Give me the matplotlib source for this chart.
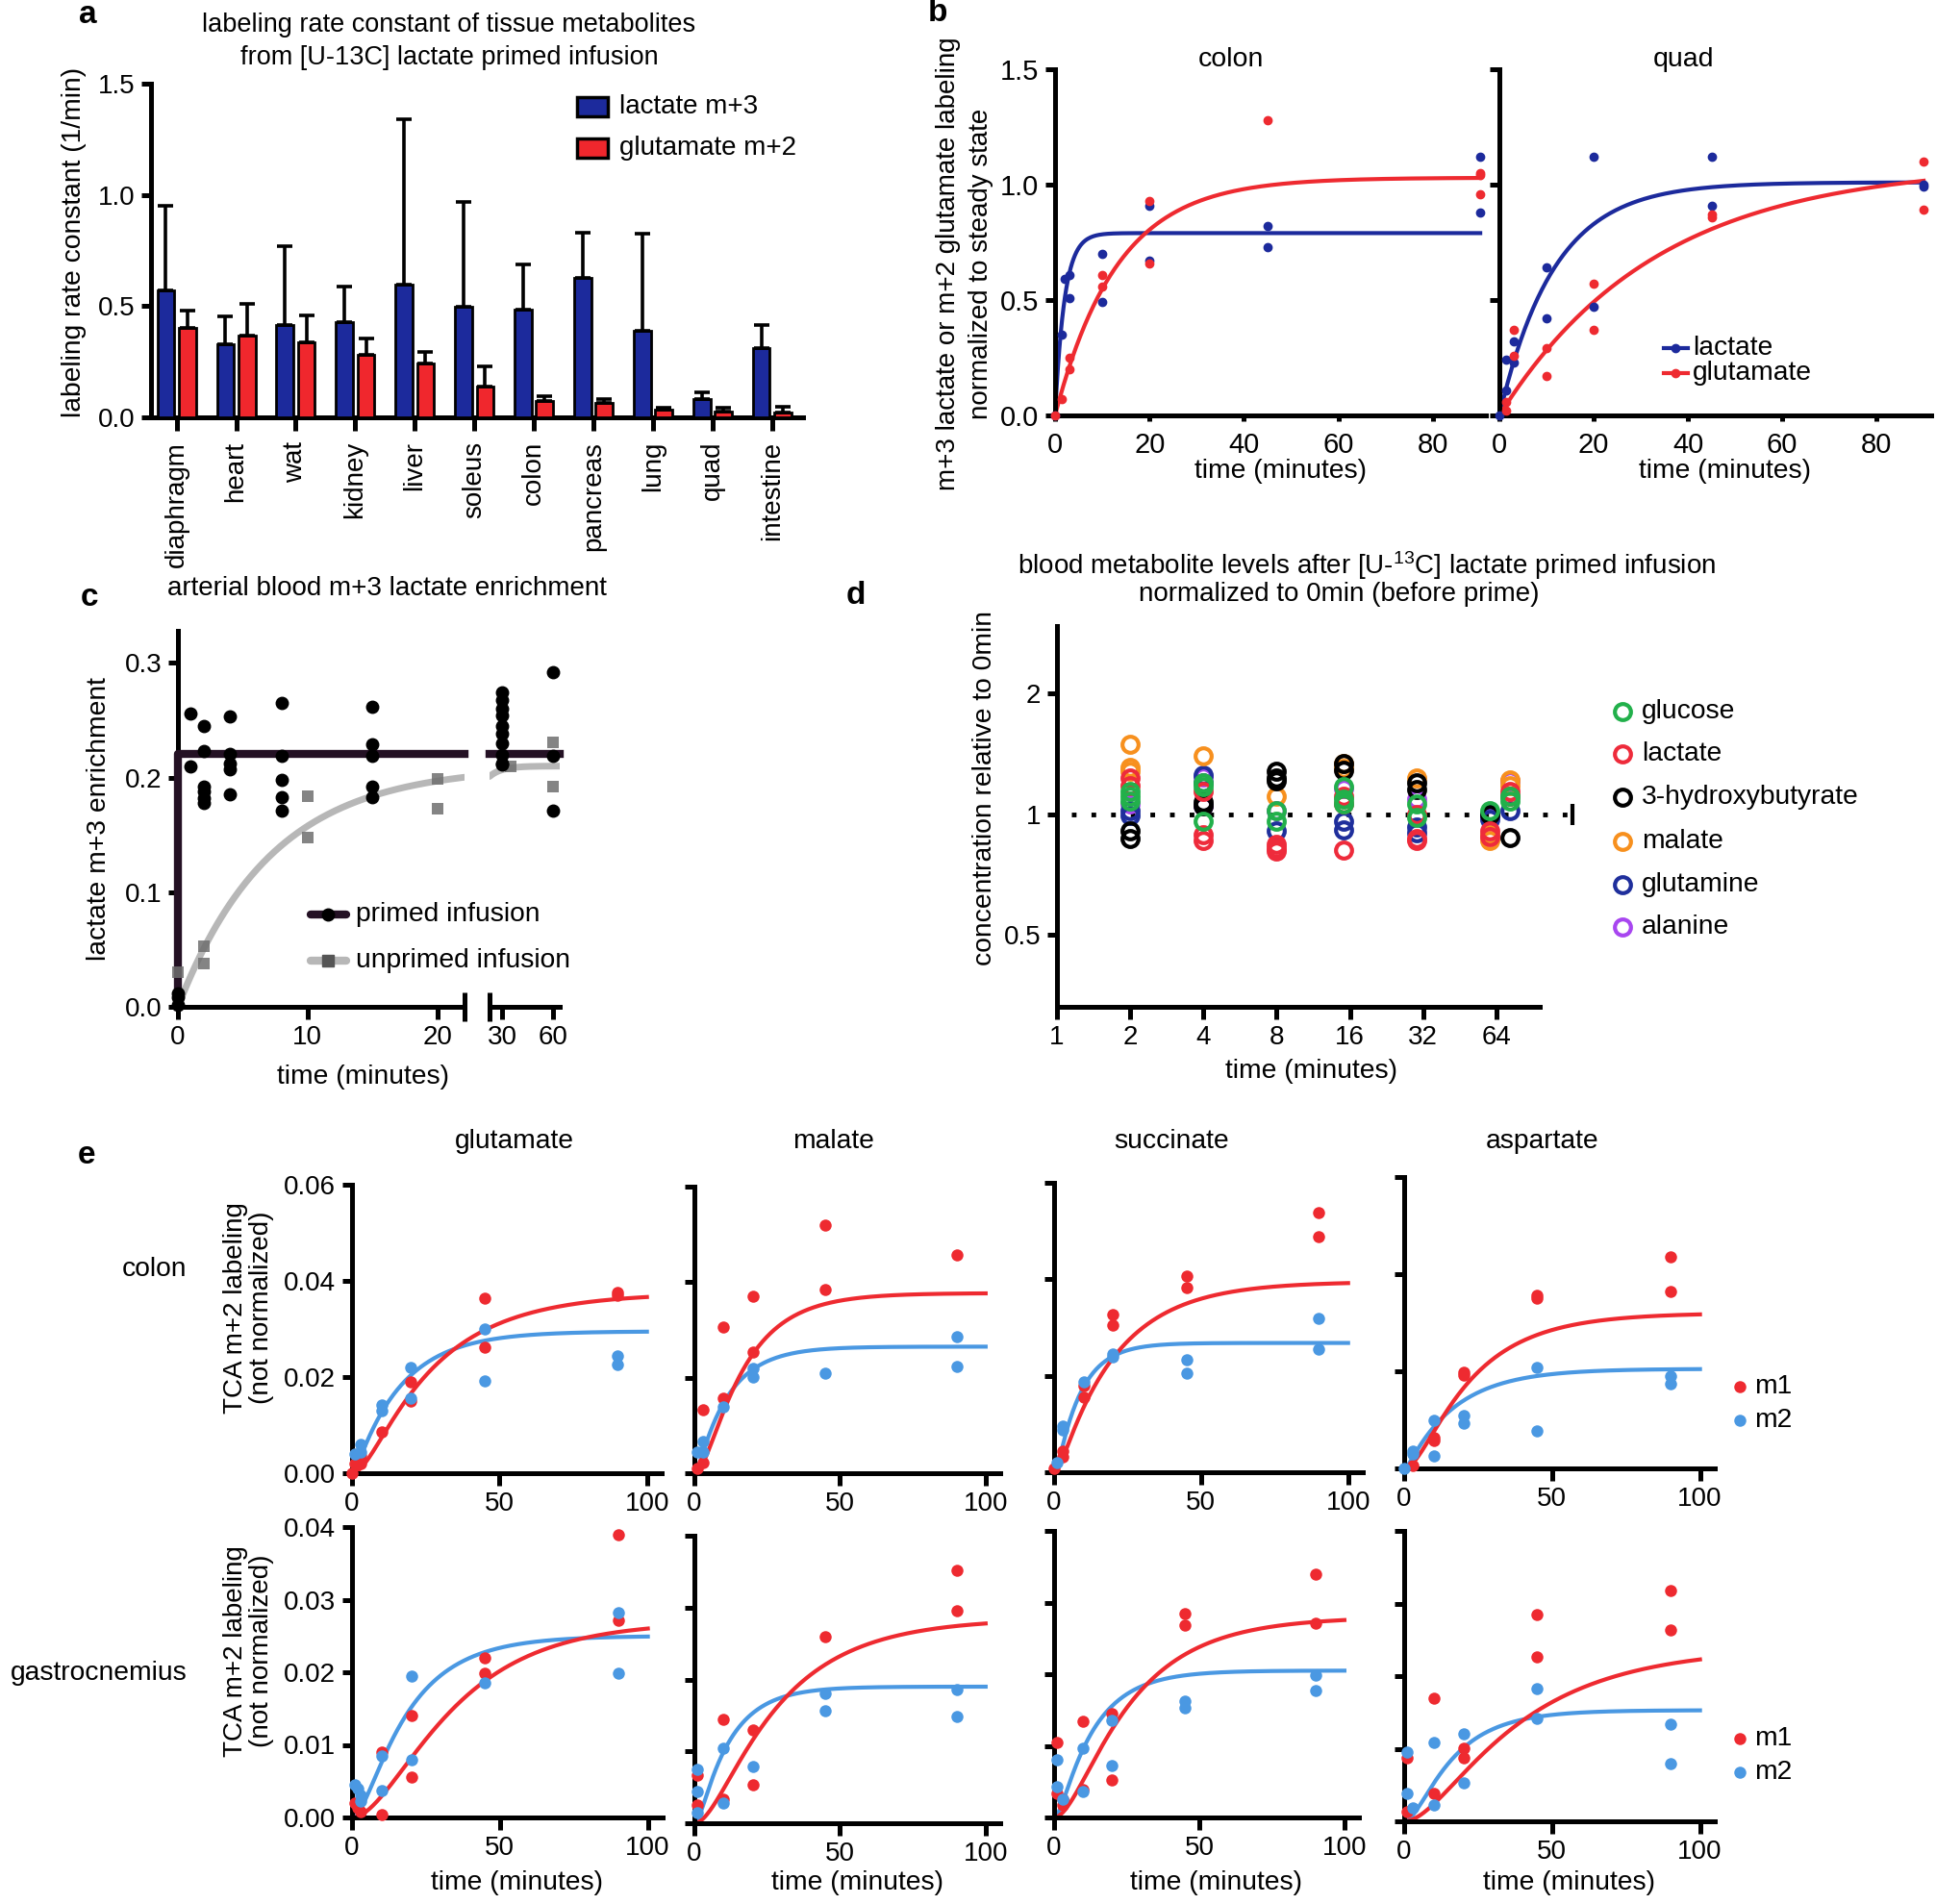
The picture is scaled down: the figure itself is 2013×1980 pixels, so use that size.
import numpy as np
import matplotlib
matplotlib.use("Agg")
import matplotlib.pyplot as plt
from matplotlib.lines import Line2D
from matplotlib.patches import Rectangle

# ---- data ---------------------------------------------------------------

# panel a: labeling rate constants (1/min)
tissues = ['diaphragm', 'heart', 'wat', 'kidney', 'liver', 'soleus',
           'colon', 'pancreas', 'lung', 'quad', 'intestine']
lac_k = [0.572, 0.327, 0.417, 0.428, 0.596, 0.497, 0.484, 0.625, 0.391, 0.080, 0.312]
lac_k_err = [0.380, 0.128, 0.352, 0.160, 0.745, 0.471, 0.204, 0.204, 0.434, 0.031, 0.103]
glu_k = [0.404, 0.367, 0.337, 0.280, 0.244, 0.139, 0.072, 0.067, 0.035, 0.027, 0.022]
glu_k_err = [0.075, 0.144, 0.123, 0.074, 0.048, 0.092, 0.024, 0.016, 0.008, 0.016, 0.024]

# panel b: normalized labeling
colon_lac_t = [0, 1.5, 2, 3, 3, 10, 10, 20, 20, 45, 45, 90, 90]
colon_lac_v = [0, 0.35, 0.59, 0.61, 0.51, 0.70, 0.49, 0.91, 0.67, 0.82, 0.73, 1.12, 0.88]
colon_glu_t = [0, 1.5, 3, 3, 10, 10, 20, 20, 45, 90, 90, 90]
colon_glu_v = [0, 0.07, 0.20, 0.25, 0.61, 0.56, 0.93, 0.66, 1.28, 1.04, 0.96, 1.05]
quad_lac_t = [0, 1.5, 1.5, 3, 3, 10, 10, 20, 20, 45, 45, 90, 90]
quad_lac_v = [0, 0.11, 0.24, 0.32, 0.23, 0.64, 0.42, 1.12, 0.47, 1.12, 0.91, 0.99, 1.0]
quad_glu_t = [1.5, 1.5, 3, 3, 10, 10, 20, 20, 45, 45, 90, 90]
quad_glu_v = [0.06, 0.02, 0.37, 0.26, 0.29, 0.17, 0.57, 0.37, 0.86, 0.87, 1.10, 0.89]
# fitted (plateau, rate)
colon_lac_fit = [0.79, 0.5]
colon_glu_fit = [1.03, 0.076]
quad_lac_fit = [1.01, 0.086]
quad_glu_fit = [1.09, 0.03]

# panel c: arterial m+3 lactate enrichment
primed_t = [0, 0, 0, 1, 1, 2, 2, 2, 2, 2, 2, 4, 4, 4, 4, 4, 8, 8, 8, 8, 8,
            15, 15, 15, 15, 15, 30, 30, 30, 30, 30, 30, 30, 30, 30, 30, 60, 60, 60]
primed_v = [0.012, 0.008, 0.002, 0.256, 0.210, 0.245, 0.223, 0.192, 0.188, 0.182, 0.178,
            0.253, 0.221, 0.212, 0.207, 0.185, 0.265, 0.219, 0.198, 0.183, 0.171,
            0.262, 0.229, 0.219, 0.192, 0.183, 0.274, 0.268, 0.260, 0.254, 0.245,
            0.238, 0.230, 0.220, 0.212, 0.211, 0.292, 0.219, 0.171]
unprimed_t = [0, 2, 2, 10, 10, 20, 20, 35, 60, 60]
unprimed_v = [0.030, 0.053, 0.038, 0.184, 0.148, 0.199, 0.173, 0.210, 0.231, 0.192]
primed_level = 0.221
unprimed_fit = [0.21, 0.139]

# panel d: blood metabolites relative to 0 min
metabolites = ['glucose', 'lactate', '3-hydroxybutyrate', 'malate', 'glutamine', 'alanine']
glucose_d = [(2, 1.14), (2, 1.11), (2, 1.08), (4, 1.20), (4, 1.17), (4, 0.96), (8, 1.02), (8, 0.96),
             (15, 1.17), (15, 1.09), (15, 1.06), (30, 1.06), (30, 0.98), (60, 1.02), (73, 1.08), (73, 1.11)]
lactate_d = [(2, 1.23), (2, 1.18), (4, 1.14), (4, 0.89), (4, 0.86), (8, 0.84), (8, 0.82), (8, 0.81),
             (15, 1.11), (15, 1.06), (15, 0.815), (30, 0.87), (30, 0.86), (30, 1.0), (60, 0.91), (60, 0.88),
             (73, 1.14), (73, 1.11)]
hb_d = [(2, 0.91), (2, 0.87), (4, 1.07), (4, 1.05), (8, 1.28), (8, 1.23), (8, 1.21), (15, 1.34), (15, 1.29),
        (30, 1.20), (30, 1.155), (60, 1.0), (73, 0.875)]
malate_d = [(2, 1.49), (2, 1.31), (2, 1.28), (4, 1.40), (8, 1.11), (15, 1.34), (15, 1.30), (30, 1.23),
            (60, 0.86), (60, 0.89), (73, 1.22), (73, 1.18)]
glutamine_d = [(2, 1.02), (2, 0.99), (4, 1.25), (4, 1.20), (8, 0.91), (15, 0.915), (15, 0.96), (30, 0.90),
               (30, 0.93), (60, 1.0), (60, 0.97), (73, 1.02)]
alanine_d = [(2, 1.06), (4, 1.05), (4, 1.24), (8, 1.02), (15, 1.16), (30, 1.09), (60, 0.99), (73, 1.21)]

# panel e: TCA m+2 labeling, (time, value)
colon_glu_m1 = [(0, 0.0), (1, 0.002), (3, 0.0037), (3, 0.002), (10, 0.0087), (20, 0.019), (20, 0.015),
                (45, 0.0365), (45, 0.0263), (90, 0.0377), (90, 0.0370)]
colon_glu_m2 = [(1, 0.004), (3, 0.006), (3, 0.0045), (10, 0.0143), (10, 0.013), (20, 0.022), (20, 0.0157),
                (45, 0.030), (45, 0.0192), (90, 0.0245), (90, 0.0227)]
colon_mal_m1 = [(1, 0.001), (3, 0.0023), (3, 0.0133), (10, 0.0307), (10, 0.0157), (20, 0.0371), (20, 0.0253),
                (45, 0.0519), (45, 0.0385), (90, 0.0457)]
colon_mal_m2 = [(1, 0.0045), (3, 0.0067), (3, 0.0045), (10, 0.0138), (20, 0.022), (20, 0.0202), (45, 0.021),
                (90, 0.0285), (90, 0.0223)]
colon_suc_m1 = [(0, 0.0007), (3, 0.0032), (3, 0.0043), (10, 0.018), (10, 0.0156), (20, 0.0326), (20, 0.0304),
                (45, 0.0407), (45, 0.0383), (90, 0.0539), (90, 0.0488)]
colon_suc_m2 = [(1, 0.002), (3, 0.0095), (3, 0.0087), (10, 0.0188), (20, 0.024), (20, 0.0245), (45, 0.0233),
                (45, 0.0206), (90, 0.0319), (90, 0.0256)]
colon_asp_m1 = [(3, 0.0005), (10, 0.0058), (10, 0.0063), (20, 0.0198), (20, 0.0193), (45, 0.0356),
                (45, 0.035), (90, 0.0436), (90, 0.0365)]
colon_asp_m2 = [(0, 0.0), (3, 0.0035), (3, 0.003), (10, 0.0099), (10, 0.0025), (20, 0.0109), (20, 0.0093),
                (45, 0.0207), (45, 0.0078), (90, 0.019), (90, 0.0175)]
gast_glu_m1 = [(1, 0.002), (2, 0.0013), (3, 0.0008), (10, 0.009), (10, 0.0004), (20, 0.014), (20, 0.0055),
               (45, 0.022), (45, 0.0199), (90, 0.039), (90, 0.0272)]
gast_glu_m2 = [(1, 0.0045), (2, 0.004), (3, 0.003), (3, 0.0022), (10, 0.0085), (10, 0.0037), (20, 0.0195),
               (20, 0.008), (45, 0.0185), (90, 0.0282), (90, 0.0199)]
gast_mal_m1 = [(1, 0.0067), (1, 0.0026), (10, 0.0145), (10, 0.0033), (20, 0.013), (20, 0.0053), (45, 0.026),
               (90, 0.0352), (90, 0.0295)]
gast_mal_m2 = [(1, 0.0075), (1, 0.0044), (1, 0.0015), (10, 0.0104), (10, 0.0028), (20, 0.0079), (45, 0.018),
               (45, 0.0157), (90, 0.0186), (90, 0.0149)]
gast_suc_m1 = [(1, 0.0105), (1, 0.0034), (3, 0.0018), (3, 0.0025), (10, 0.0134), (10, 0.0039), (20, 0.0145),
               (20, 0.0052), (45, 0.0284), (45, 0.0268), (90, 0.034), (90, 0.0271)]
gast_suc_m2 = [(1, 0.008), (1, 0.0043), (3, 0.0025), (10, 0.0096), (10, 0.0036), (20, 0.0135), (20, 0.0072),
               (45, 0.0163), (45, 0.0153), (90, 0.0198), (90, 0.0177)]
gast_asp_m1 = [(1, 0.0088), (1, 0.0013), (10, 0.017), (10, 0.0038), (20, 0.0101), (20, 0.0088), (45, 0.0285),
               (45, 0.0226), (90, 0.0318), (90, 0.0263)]
gast_asp_m2 = [(1, 0.0096), (1, 0.0038), (3, 0.0018), (10, 0.0108), (10, 0.0022), (20, 0.012), (20, 0.0053),
               (45, 0.0183), (45, 0.0142), (90, 0.0134), (90, 0.0079)]
# fitted (plateau, k1, k2) for a two-step rise
colon_fits = [[(0.0375, 0.04, 0.2), (0.0295, 0.062, 1.0)],
              [(0.0377, 0.07, 0.25), (0.0265, 0.09, 1.0)],
              [(0.0395, 0.05, 0.6), (0.0268, 0.12, 1.0)],
              [(0.032, 0.05, 0.2), (0.0205, 0.06, 1.0)]]
gast_fits = [[(0.027, 0.04, 0.08), (0.025, 0.06, 0.25)],
             [(0.0285, 0.04, 0.15), (0.019, 0.09, 0.6)],
             [(0.028, 0.045, 0.15), (0.0205, 0.08, 0.5)],
             [(0.024, 0.03, 0.1), (0.0153, 0.07, 0.25)]]
tca_names = ['glutamate', 'malate', 'succinate', 'aspartate']

# ---- style ----------------------------------------------------------------

W, H = 2013, 1980
plt.rcParams['font.family'] = ['Liberation Sans', 'DejaVu Sans']
plt.rcParams['font.size'] = 20
plt.rcParams['mathtext.default'] = 'regular'
LW = 3.6
LAB = 20.3   # axis label size

BLUE_A = '#1c2a9c'
RED_A = '#f0272d'
RED_E = '#ee2a30'
BLUE_E = '#4a98e2'
d_colors = ['#22b04b', '#ee2b3b', '#000000', '#f7901e', '#1f2f9c', '#a846f0']

fig = plt.figure(figsize=(W / 100, H / 100), dpi=100)


def add_ax(x0, y0, x1, y1):
    return fig.add_axes([x0 / W, 1 - y1 / H, (x1 - x0) / W, (y1 - y0) / H])


def style(ax, left=True, size=20):
    ax.spines['top'].set_visible(False)
    ax.spines['right'].set_visible(False)
    ax.spines['left'].set_visible(left)
    ax.spines['bottom'].set_linewidth(LW)
    ax.spines['left'].set_linewidth(LW)
    ax.tick_params(direction='out', length=7, width=LW, pad=5, labelsize=size)
    ax.patch.set_alpha(0)


def ftext(x, y, s, **kw):
    kw.setdefault('ha', 'center')
    kw.setdefault('va', 'center')
    fig.text(x / W, 1 - y / H, s, **kw)


def fline(xs, ys, **kw):
    fig.add_artist(Line2D([x / W for x in xs], [1 - y / H for y in ys],
                          transform=fig.transFigure, **kw))


def two_step(t, A, k1, k2):
    return A * (1 - (k2 * np.exp(-k1 * t) - k1 * np.exp(-k2 * t)) / (k2 - k1))


# ---- panel a --------------------------------------------------------------

ax = add_ax(157, 87, 835, 434)
style(ax)
x = np.arange(len(tissues))
zeros = np.zeros(len(tissues))
ax.bar(x - 0.18, lac_k, 0.285, color=BLUE_A, edgecolor='black', linewidth=2,
       yerr=[zeros, lac_k_err], error_kw=dict(elinewidth=2.6, capsize=6, capthick=2.6, ecolor='black'), zorder=3)
ax.bar(x + 0.18, glu_k, 0.285, color=RED_A, edgecolor='black', linewidth=2,
       yerr=[zeros, glu_k_err], error_kw=dict(elinewidth=2.6, capsize=6, capthick=2.6, ecolor='black'), zorder=3)
ax.set_xlim(-0.43, 10.52)
ax.set_ylim(0, 1.5)
ax.set_yticks([0, 0.5, 1.0, 1.5])
ax.set_yticklabels(['0.0', '0.5', '1.0', '1.5'])
ax.set_xticks(x)
ax.set_xticklabels(tissues, rotation=90)
ax.tick_params(axis='x', length=10, pad=8)
ftext(77, 252, 'labeling rate constant (1/min)', rotation=90, fontsize=LAB)
ftext(467, 26, 'labeling rate constant of tissue metabolites', fontsize=19.5)
ftext(467, 60, 'from [U-13C] lactate primed infusion', fontsize=19.5)
ftext(91, 15, 'a', fontsize=24, fontweight='bold')
for yy, col, lab in [(111, BLUE_A, 'lactate m+3'), (154, RED_A, 'glutamate m+2')]:
    fig.add_artist(Rectangle((600 / W, 1 - (yy + 10) / H), 32 / W, 20 / H, transform=fig.transFigure,
                             facecolor=col, edgecolor='black', linewidth=2.5))
    ftext(644, yy, lab, ha='left', fontsize=20)

# ---- panel b --------------------------------------------------------------

tb = np.linspace(0, 90, 300)
for pos, lac_t, lac_v, glu_t, glu_v, lfit, gfit, title, tx, xr in [
        ((1097, 72, 1545, 432), colon_lac_t, colon_lac_v, colon_glu_t, colon_glu_v,
         colon_lac_fit, colon_glu_fit, 'colon', 1280, 91.2),
        ((1559, 72, 2008, 432), quad_lac_t, quad_lac_v, quad_glu_t, quad_glu_v,
         quad_lac_fit, quad_glu_fit, 'quad', 1751, 91.6)]:
    axb = add_ax(*pos)
    style(axb, size=21)
    axb.plot(tb, lfit[0] * (1 - np.exp(-lfit[1] * tb)), color=BLUE_A, lw=3, clip_on=False)
    axb.plot(tb, gfit[0] * (1 - np.exp(-gfit[1] * tb)), color=RED_E, lw=3, clip_on=False)
    axb.plot(lac_t, lac_v, 'o', color=BLUE_A, ms=6, clip_on=False, zorder=4)
    axb.plot(glu_t, glu_v, 'o', color=RED_E, ms=6, clip_on=False, zorder=4)
    axb.set_xlim(0, xr)
    axb.set_ylim(0, 1.5)
    axb.set_xticks([0, 20, 40, 60, 80])
    axb.set_yticks([0, 0.5, 1.0, 1.5])
    axb.tick_params(axis='x', length=4, pad=8)
    if title == 'colon':
        axb.set_yticklabels(['0.0', '0.5', '1.0', '1.5'])
    else:
        axb.set_yticklabels([])
    ftext(tx, 62, title, fontsize=20.5)
    ftext((pos[0] + pos[2]) / 2 + 10, 490, 'time (minutes)', fontsize=LAB)

ftext(986, 274, 'm+3 lactate or m+2 glutamate labeling', rotation=90, fontsize=20)
ftext(1020, 274, 'normalized to steady state', rotation=90, fontsize=20)
ftext(975, 13, 'b', fontsize=24, fontweight='bold')
for yy, col, lab in [(362, BLUE_A, 'lactate'), (388, RED_E, 'glutamate')]:
    fline([1730, 1755], [yy, yy], color=col, lw=3)
    fline([1742], [yy], color=col, marker='o', ms=6, lw=0)
    ftext(1760, yy, lab, ha='left', fontsize=LAB)

# ---- panel c --------------------------------------------------------------

axc1 = add_ax(185, 656, 483, 1047)
axc2 = add_ax(509, 656, 582, 1047)
style(axc1)
style(axc2, left=False)
for a in (axc1, axc2):
    a.set_ylim(0, 0.328)
axc1.set_xlim(0, 22.1)
axc2.set_xlim(22.6, 64)
axc1.set_yticks([0, 0.1, 0.2, 0.3])
axc1.set_yticklabels(['0.0', '0.1', '0.2', '0.3'])
axc1.set_xticks([0, 10, 20])
axc2.set_xticks([30, 60])
axc2.set_yticks([])
axc1.tick_params(axis='x', length=9)
axc2.tick_params(axis='x', length=9)

t1 = np.linspace(0, 22.1, 200)
t2 = np.linspace(22.6, 64, 200)
axc1.plot(t1, unprimed_fit[0] * (1 - np.exp(-unprimed_fit[1] * t1)), color='#b7b7b7', lw=5,
          solid_capstyle='round', zorder=2)
axc2.plot(t2, unprimed_fit[0] * (1 - np.exp(-unprimed_fit[1] * t2)), color='#b7b7b7', lw=5,
          solid_capstyle='round', zorder=2)
axc1.plot([0, 0, 22.1], [0, primed_level, primed_level], color='#241124', lw=6, zorder=3, clip_on=False)
axc2.plot([22.6, 64], [primed_level, primed_level], color='#241124', lw=6, zorder=3, clip_on=False)
for a, sel in ((axc1, lambda t: t < 22), (axc2, lambda t: t >= 22)):
    pt = [t for t in primed_t if sel(t)]
    pv = [v for t, v in zip(primed_t, primed_v) if sel(t)]
    ut = [t for t in unprimed_t if sel(t)]
    uv = [v for t, v in zip(unprimed_t, unprimed_v) if sel(t)]
    a.plot(ut, uv, 's', color='#6f6f6f', alpha=0.85, ms=8, mew=0, clip_on=False, zorder=4)
    a.plot(pt, pv, 'o', color='black', ms=9, clip_on=False, zorder=5)
axc1.plot([22.1], [0], marker='|', ms=22, mew=LW, color='black', clip_on=False)
axc2.plot([22.6], [0], marker='|', ms=22, mew=LW, color='black', clip_on=False)
ftext(103, 852, 'lactate m+3 enrichment', rotation=90, fontsize=LAB)
ftext(402, 612, 'arterial blood m+3 lactate enrichment', fontsize=20)
ftext(378, 1120, 'time (minutes)', fontsize=LAB)
ftext(93, 622, 'c', fontsize=24, fontweight='bold')
fline([323, 360], [951, 951], color='#241124', lw=6, solid_capstyle='round')
fline([341], [951], color='black', marker='o', ms=9, lw=0)
ftext(370, 951, 'primed infusion', ha='left', fontsize=LAB)
fline([323, 360], [999, 999], color='#b7b7b7', lw=6, solid_capstyle='round')
fline([341], [999], color='#555555', marker='s', ms=8, lw=0)
ftext(370, 999, 'unprimed infusion', ha='left', fontsize=LAB)

# ---- panel d --------------------------------------------------------------

axd = add_ax(1099, 651, 1601, 1047)
style(axd)
axd.set_xscale('log', base=2)
axd.set_yscale('log', base=2)
axd.set_xlim(1, 96.4)
axd.set_ylim(0.33, 2.95)
axd.set_xticks([1, 2, 4, 8, 16, 32, 64])
axd.set_xticklabels(['1', '2', '4', '8', '16', '32', '64'])
axd.set_yticks([0.5, 1, 2])
axd.set_yticklabels(['0.5', '1', '2'])
axd.minorticks_off()
axd.tick_params(axis='x', length=9)
axd.plot([1.15, 131], [1, 1], color='black', lw=3.5, ls=(0, (1, 3.2)), clip_on=False, zorder=1)
axd.plot([131], [1], marker='|', ms=16, mew=3, color='black', clip_on=False)
d_series = [glucose_d, lactate_d, hb_d, malate_d, glutamine_d, alanine_d]
for i in range(len(metabolites) - 1, -1, -1):
    pts = d_series[i]
    axd.plot([p[0] for p in pts], [p[1] for p in pts], 'o', mfc='none', mec=d_colors[i],
             mew=3, ms=12, clip_on=False, zorder=3)
ftext(1421, 588, 'blood metabolite levels after [U-$^{13}$C] lactate primed infusion', fontsize=20)
ftext(1392, 618, 'normalized to 0min (before prime)', fontsize=20)
ftext(1024, 819, 'concentration relative to 0min', rotation=90, fontsize=LAB)
ftext(1364, 1114, 'time (minutes)', fontsize=LAB)
ftext(890, 620, 'd', fontsize=24, fontweight='bold')
for i, (yy, lab) in enumerate(zip([740, 784, 829, 875, 920, 964], metabolites)):
    fline([1687], [yy], marker='o', mfc='none', mec=d_colors[i], mew=3, ms=12, lw=0)
    ftext(1707, yy, lab, ha='left', fontsize=LAB)

# ---- panel e --------------------------------------------------------------

top_pos = [(366, 1232, 688, 1532), (722, 1234, 1040, 1532), (1096, 1230, 1417, 1531), (1460, 1224, 1783, 1527)]
bot_pos = [(366, 1588, 689, 1890), (722, 1597, 1040, 1896), (1096, 1592, 1413, 1890), (1460, 1592, 1783, 1894)]
colon_series = [(colon_glu_m1, colon_glu_m2), (colon_mal_m1, colon_mal_m2),
                (colon_suc_m1, colon_suc_m2), (colon_asp_m1, colon_asp_m2)]
gast_series = [(gast_glu_m1, gast_glu_m2), (gast_mal_m1, gast_mal_m2),
               (gast_suc_m1, gast_suc_m2), (gast_asp_m1, gast_asp_m2)]
te = np.linspace(0, 100, 300)
for row, (positions, series, fits, ymax, ystep) in enumerate([
        (top_pos, colon_series, colon_fits, 0.06, 0.02),
        (bot_pos, gast_series, gast_fits, 0.04, 0.01)]):
    for j in range(4):
        axe = add_ax(*positions[j])
        style(axe)
        m1, m2 = series[j]
        f1, f2 = fits[j]
        axe.plot(te, two_step(te, *f2), color=BLUE_E, lw=3, zorder=2)
        axe.plot(te, two_step(te, *f1), color=RED_E, lw=3, zorder=2)
        axe.plot([p[0] for p in m1], [p[1] for p in m1], 'o', color=RED_E, ms=9, mew=0,
                 clip_on=False, zorder=3)
        axe.plot([p[0] for p in m2], [p[1] for p in m2], 'o', color=BLUE_E, ms=9, mew=0,
                 clip_on=False, zorder=3)
        axe.set_xlim(0, 105)
        axe.set_ylim(0, ymax)
        axe.set_xticks([0, 50, 100])
        yt = np.arange(0, ymax + 1e-9, ystep)
        axe.set_yticks(yt)
        if j == 0:
            axe.set_yticklabels(['%.2f' % v for v in yt])
        else:
            axe.set_yticklabels([])
        axe.tick_params(axis='x', length=9)
        if row == 1:
            ftext((positions[j][0] + positions[j][2]) / 2 + 10, 1958, 'time (minutes)', fontsize=LAB)

for xx, name in zip([535, 867, 1218, 1604], tca_names):
    ftext(xx, 1187, name, fontsize=LAB)
ftext(161, 1320, 'colon', fontsize=LAB)
ftext(103, 1740, 'gastrocnemius', fontsize=LAB)
for cy in (1360, 1717):
    ftext(245, cy, 'TCA m+2 labeling', rotation=90, fontsize=20)
    ftext(272, cy, '(not normalized)', rotation=90, fontsize=20)
ftext(90, 1202, 'e', fontsize=24, fontweight='bold')
for y1, y2 in ((1442, 1477), (1808, 1843)):
    fline([1809], [y1], marker='o', color=RED_E, ms=9, mew=0, lw=0)
    ftext(1824, y1, 'm1', ha='left', fontsize=LAB)
    fline([1809], [y2], marker='o', color=BLUE_E, ms=9, mew=0, lw=0)
    ftext(1824, y2, 'm2', ha='left', fontsize=LAB)

fig.savefig('out.png', dpi=100)
